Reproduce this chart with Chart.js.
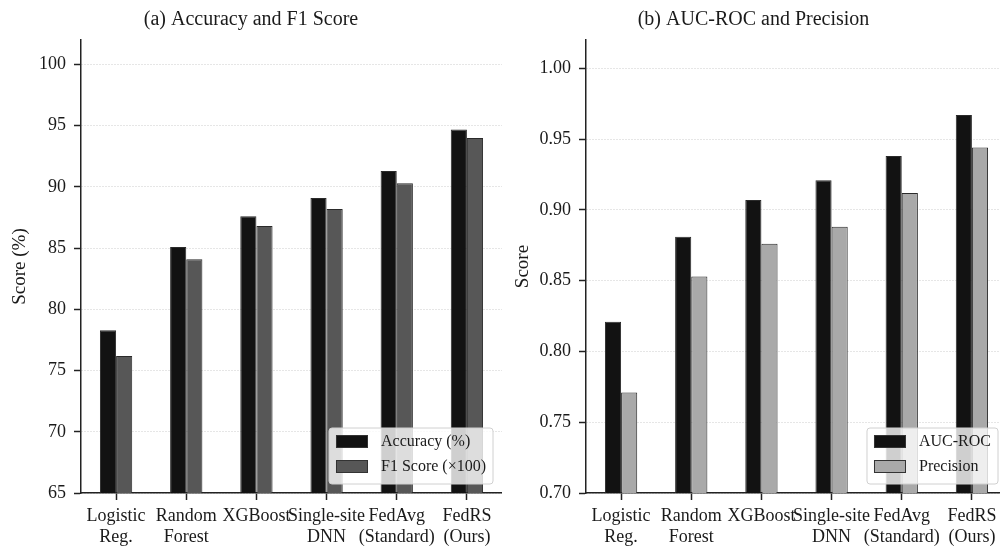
<!DOCTYPE html>
<html>
<head>
<meta charset="utf-8">
<script src="https://cdn.jsdelivr.net/npm/chart.js@4/dist/chart.umd.min.js"></script>
<style>
  html, body { margin: 0; padding: 0; background: #ffffff; overflow: hidden; width: 1000px; height: 550px; }
  #wrap { position: relative; width: 1000px; height: 550px; overflow: hidden; }
  canvas { position: absolute; top: 0; }
  #chartA { left: 0; }
  #chartB { left: 500px; }
</style>
</head>
<body>
<div id="wrap">
  <canvas id="chartA" width="502" height="550"></canvas>
  <canvas id="chartB" width="507" height="550"></canvas>
</div>
<script>
// Model names on the x axis (two lines each)
const categories = [
  ["Logistic", "Reg."],
  ["Random", "Forest"],
  ["XGBoost"],
  ["Single-site", "DNN"],
  ["FedAvg", "(Standard)"],
  ["FedRS", "(Ours)"]
];

// Panel (a): accuracy and F1 (scaled by 100)
const accuracy = [78.3, 85.1, 87.6, 89.1, 91.3, 94.7];
const f1Score = [76.2, 84.1, 86.8, 88.2, 90.3, 94.0];

// Panel (b): AUC-ROC and precision
const aucRoc = [0.821, 0.881, 0.907, 0.921, 0.938, 0.967];
const precision = [0.771, 0.853, 0.876, 0.888, 0.912, 0.944];

// Tick values for each panel's y axis
const ticksA = [65, 70, 75, 80, 85, 90, 95, 100];
const ticksB = [0.70, 0.75, 0.80, 0.85, 0.90, 0.95, 1.00];

const SERIF = "'Liberation Serif', 'Times New Roman', serif";
const INK = '#1a1a1a';
Chart.defaults.font.family = SERIF;
Chart.defaults.color = INK;

// Legend box drawn inside the plot, anchored at the lower-right corner
const cornerLegend = {
  id: 'cornerLegend',
  afterDatasetsDraw(chart) {
    const ctx = chart.ctx;
    const area = chart.chartArea;
    const ds = chart.data.datasets;
    const fontSize = 16;
    ctx.save();
    ctx.font = fontSize + 'px ' + SERIF;
    let textW = 0;
    ds.forEach(d => { textW = Math.max(textW, ctx.measureText(d.label).width); });
    const padL = 7, swW = 32, swH = 13, gap = 13, padR = 7;
    const rowGap = 25, boxH = 56;
    const boxW = padL + swW + gap + textW + padR;
    const right = area.right - 9, bottom = area.bottom - 9;
    const left = right - boxW, top = bottom - boxH;
    ctx.beginPath();
    ctx.roundRect(left, top, boxW, boxH, 3);
    ctx.fillStyle = 'rgba(255,255,255,0.8)';
    ctx.fill();
    ctx.lineWidth = 1;
    ctx.strokeStyle = '#d0d0d0';
    ctx.stroke();
    ds.forEach((d, i) => {
      const cy = top + 13.5 + i * rowGap;
      ctx.fillStyle = d.backgroundColor;
      ctx.fillRect(left + padL, cy - swH / 2, swW, swH);
      ctx.lineWidth = 1;
      ctx.strokeStyle = '#333333';
      ctx.strokeRect(left + padL + 0.5, cy - swH / 2 + 0.5, swW - 1, swH - 1);
      ctx.fillStyle = INK;
      ctx.textBaseline = 'middle';
      ctx.textAlign = 'left';
      ctx.fillText(d.label, left + padL + swW + gap, cy);
    });
    ctx.restore();
  }
};

function makeChart(canvasId, cfg) {
  const barCommon = {
    borderColor: '#2a2a2a',
    borderWidth: 1,
    categoryPercentage: 0.46,
    barPercentage: 1.0
  };
  return new Chart(document.getElementById(canvasId), {
    type: 'bar',
    data: {
      labels: categories,
      datasets: [
        Object.assign({ label: cfg.labels[0], data: cfg.series[0], backgroundColor: cfg.colors[0] }, barCommon),
        Object.assign({ label: cfg.labels[1], data: cfg.series[1], backgroundColor: cfg.colors[1] }, barCommon)
      ]
    },
    options: {
      responsive: false,
      animation: false,
      devicePixelRatio: 1,
      layout: { padding: 0 },
      plugins: {
        legend: { display: false },
        tooltip: { enabled: false },
        title: {
          display: true,
          text: cfg.title,
          color: INK,
          font: { size: 20, weight: 'normal', family: SERIF, lineHeight: 1.2 },
          padding: { top: 8, bottom: 8 }
        }
      },
      scales: {
        x: {
          offset: true,
          grid: {
            offset: false,
            drawOnChartArea: false,
            drawTicks: true,
            tickLength: 7,
            tickColor: '#222222',
            tickWidth: 1.5
          },
          border: { display: true, color: '#222222', width: 1.5 },
          ticks: {
            color: INK,
            font: { size: 18, family: SERIF, lineHeight: 1.15 },
            padding: 6,
            maxRotation: 0,
            autoSkip: false
          },
          afterFit(s) { s.height = 57; }
        },
        y: {
          min: cfg.min,
          max: cfg.max,
          grid: {
            color: '#cccccc',
            lineWidth: 1,
            drawTicks: true,
            tickLength: 7,
            tickColor: '#222222',
            tickWidth: 1.5
          },
          border: { display: true, color: '#222222', width: 1.5, dash: [1, 2] },
          ticks: {
            color: INK,
            font: { size: 18, family: SERIF },
            padding: 8,
            callback: cfg.fmt
          },
          afterBuildTicks(s) { s.ticks = cfg.ticks.map(v => ({ value: v })); },
          title: {
            display: true,
            text: cfg.yTitle,
            color: INK,
            font: { size: 19, family: SERIF, lineHeight: 1.2 },
            padding: { top: cfg.yTitlePad, bottom: 0 }
          },
          afterFit(s) { s.width = cfg.yWidth; }
        }
      }
    },
    plugins: [cornerLegend]
  });
}

makeChart('chartA', {
  title: '(a) Accuracy and F1 Score',
  labels: ['Accuracy (%)', 'F1 Score (×100)'],
  series: [accuracy, f1Score],
  colors: ['#121212', '#575757'],
  min: 65, max: 102,
  ticks: ticksA,
  fmt: v => String(v),
  yTitle: 'Score (%)',
  yTitlePad: 8.5,
  yWidth: 81
});

makeChart('chartB', {
  title: '(b) AUC-ROC and Precision',
  labels: ['AUC-ROC', 'Precision'],
  series: [aucRoc, precision],
  colors: ['#121212', '#a9a9a9'],
  min: 0.70, max: 1.02,
  ticks: ticksB,
  fmt: v => Number(v).toFixed(2),
  yTitle: 'Score',
  yTitlePad: 11.5,
  yWidth: 86
});
</script>
</body>
</html>
